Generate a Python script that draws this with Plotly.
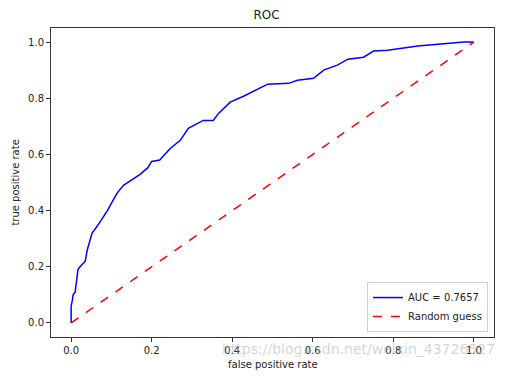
import plotly.graph_objects as go

fpr = [0.0, 0.0, 0.003, 0.005, 0.01, 0.017, 0.022, 0.035, 0.04, 0.052, 0.065, 0.077, 0.09,
       0.104, 0.115, 0.13, 0.15, 0.172, 0.19, 0.2, 0.22, 0.246, 0.271, 0.291, 0.328, 0.353,
       0.366, 0.395, 0.428, 0.47, 0.488, 0.54, 0.562, 0.602, 0.627, 0.661, 0.687, 0.726,
       0.751, 0.786, 0.861, 0.918, 0.975, 1.0]
tpr = [0.0, 0.06, 0.08, 0.1, 0.11, 0.19, 0.2, 0.22, 0.26, 0.32, 0.345, 0.37, 0.40,
       0.436, 0.464, 0.49, 0.51, 0.53, 0.552, 0.575, 0.58, 0.621, 0.65, 0.693, 0.721, 0.721,
       0.746, 0.786, 0.807, 0.836, 0.85, 0.853, 0.864, 0.871, 0.9, 0.918, 0.939, 0.946,
       0.968, 0.971, 0.986, 0.993, 1.0, 1.0]
diag = [0.0, 1.0]
auc_label = "AUC = 0.7657"
ticks = [0.0, 0.2, 0.4, 0.6, 0.8, 1.0]
tick_text = ["0.0", "0.2", "0.4", "0.6", "0.8", "1.0"]

fig = go.Figure()
fig.add_trace(go.Scatter(x=fpr, y=tpr, mode="lines", name=auc_label,
                         line=dict(color="blue", width=1.5)))
fig.add_trace(go.Scatter(x=diag, y=diag, mode="lines", name="Random guess",
                         line=dict(color="red", width=1.5, dash="dash")))

axis_common = dict(range=[-0.05, 1.05], tickvals=ticks, ticktext=tick_text,
                   ticks="outside", ticklen=4, tickwidth=1, tickcolor="#333333",
                   showgrid=False, zeroline=False, showline=True, linecolor="#333333",
                   linewidth=1, mirror=True, automargin=False,
                   tickfont=dict(family="DejaVu Sans", size=10, color="#222222"))

# page body has an 8px margin, so the figure is 8px smaller than the window
fig.update_layout(
    width=499, height=370,
    margin=dict(l=43, r=13, t=20, b=41),
    paper_bgcolor="white", plot_bgcolor="white",
    title=dict(text="ROC", xref="container", yref="container", x=0.518, xanchor="center",
               y=0.981, yanchor="middle",
               font=dict(family="DejaVu Sans", size=12, color="#222222")),
    xaxis=dict(**axis_common),
    yaxis=dict(**axis_common),
    legend=dict(x=0.9865, y=0.016, xanchor="right", yanchor="bottom",
                bordercolor="#d0d0d0", borderwidth=1, bgcolor="rgba(255,255,255,0.8)",
                font=dict(family="DejaVu Sans", size=10, color="#222222"),
                tracegroupgap=0, itemwidth=30),
    showlegend=True,
)
fig.add_annotation(text="false positive rate", xref="paper", yref="paper",
                   x=0.5, y=-0.09, xanchor="center", yanchor="middle", showarrow=False,
                   font=dict(family="DejaVu Sans", size=10, color="#222222"))
fig.add_annotation(text="true positive rate", xref="paper", yref="paper",
                   x=-0.081, y=0.5, xanchor="center", yanchor="middle", showarrow=False,
                   textangle=-90,
                   font=dict(family="DejaVu Sans", size=10, color="#222222"))
fig.add_annotation(text="https://blog.csdn.net/weixin_43726527", xref="paper", yref="paper",
                   x=1.007, y=-0.039, xanchor="right", yanchor="middle", showarrow=False,
                   font=dict(family="DejaVu Sans", size=14, color="rgba(170,170,170,0.5)"))

fig.write_html("out.html")
